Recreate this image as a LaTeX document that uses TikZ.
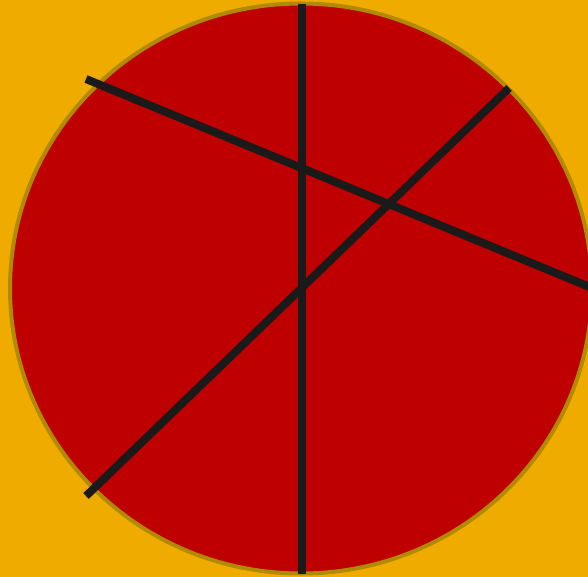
\documentclass[tikz,border=0pt]{standalone}
\usepackage{tikz}
\definecolor{bgorange}{HTML}{F0AB00}
\definecolor{pizzared}{HTML}{BF0000}
\definecolor{rimgold}{HTML}{B08A00}
\definecolor{cutblack}{HTML}{1A1A1A}
\tikzset{cutline/.style={draw=cutblack,line width=8pt}}

\begin{document}
\begin{tikzpicture}[x=1pt,y=-1pt]

      \fill [bgorange] (0,0) rectangle (588,577);
      \useasboundingbox (0,0) rectangle (588,577);
      \clip (0,0) rectangle (588,577);

      % the disc
      \draw [line width=4pt,draw=rimgold,fill=pizzared] (301,288.5) ellipse [x radius=291, y radius=285];

      % end points of the cuts
      \coordinate (vtop) at (302,4);
      \coordinate (vbot) at (302,574);
      \coordinate (aleft) at (86,79);
      \coordinate (aright) at (592,288);
      \coordinate (bleft) at (86,496);
      \coordinate (bright) at (509,88);

      \draw [cutline] (vtop) -- (vbot);
      \draw [cutline] (aleft) -- (aright);
      \draw [cutline] (bleft) -- (bright);

    \end{tikzpicture}
\end{document}
